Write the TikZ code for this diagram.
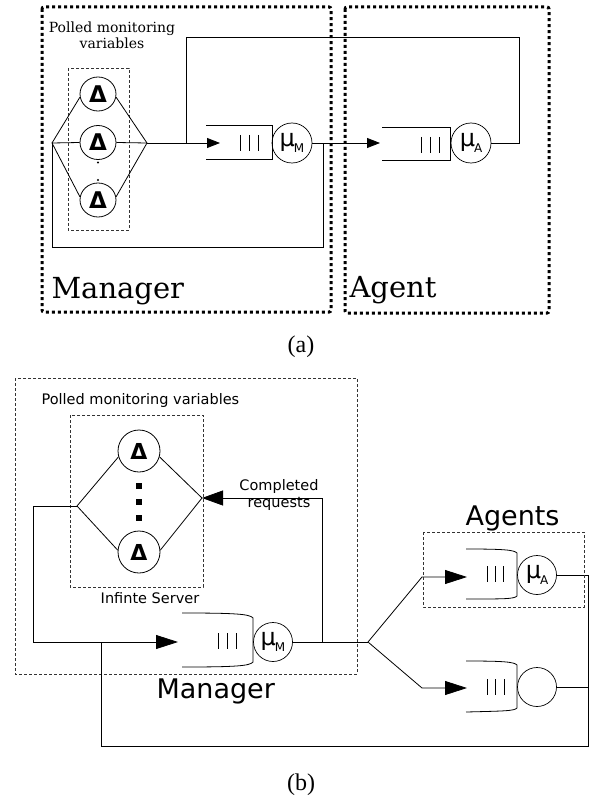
\documentclass[tikz,border=0pt]{standalone}
\usepackage{fontspec}
\setmainfont{DejaVu Sans}
\newfontfamily\serifA{DejaVu Serif}
\newfontfamily\capfont{Liberation Serif}
\usetikzlibrary{arrows.meta,shapes.geometric}
\newcommand\musub[1]{{\fontsize{24}{24}\selectfont μ}\kern-1pt\raisebox{-6pt}{\fontsize{12}{12}\selectfont #1}}
\begin{document}
\begin{tikzpicture}[x=1pt,y=-1pt,
  wire/.style={line width=0.8pt},
  bigbox/.style={line width=3pt, dash pattern=on 3pt off 3pt, rounded corners=2pt},
  thinbox/.style={line width=0.6pt, dash pattern=on 3pt off 2pt, draw=black!80},
  srvA/.style={circle, draw, line width=0.7pt, inner sep=0pt, minimum size=40pt},
  srvB/.style={circle, draw, line width=0.7pt, inner sep=0pt, minimum size=39pt},
  delA/.style={ellipse, draw, line width=0.8pt, inner sep=0pt, minimum width=36pt, minimum height=34pt, font=\fontsize{23}{23}\selectfont\bfseries},
  delB/.style={circle, draw, line width=0.8pt, inner sep=0pt, minimum size=42pt, font=\fontsize{22}{22}\selectfont\bfseries},
  arrA/.style={-{Triangle[length=13pt,width=10pt]}},
  arrB/.style={-{Triangle[length=22pt,width=14pt]}},
  bars/.style={line width=0.9pt},
]
\useasboundingbox (0,0) rectangle (592,802);

% ---------------- (a) ----------------
\draw[bigbox] (42,7) rectangle (331,312);
\draw[bigbox] (345,7) rectangle (549,313);
\draw[thinbox] (68,68) rectangle (129,230);
\node[font=\serifA\fontsize{14}{16}\selectfont, align=center] (pmvA) at (112,35) {Polled monitoring\\variables};
\node[anchor=base west, font=\serifA\fontsize{29}{29}\selectfont] (mgrA) at (48,298) {Manager};
\node[anchor=base west, font=\serifA\fontsize{29}{29}\selectfont] (agtA) at (346,297) {Agent};

\node[delA] (D1) at (98,94) {Δ};
\node[delA] (D2) at (98,142.5) {Δ};
\node[delA] (D3) at (98,200) {Δ};
\fill (98,162.5) circle (1.2pt);
\fill (98,180) circle (1.2pt);

\coordinate (L) at (52,143);
\coordinate (R) at (147,143);
\draw[wire] (L) -- (D1.190) (D1.350) -- (R);
\draw[wire] (L) -- (D2.west) (D2.east) -- (R);
\draw[wire] (L) -- (D3.170) (D3.10) -- (R);

\coordinate (qMin) at (220,143);
\draw[wire, arrA] (R) -- (qMin);
\draw[wire] (206,125) -- (272,125) -- (272,159) -- (206,159);
\foreach \x in {240,249,258} \draw[bars] (\x,135) -- (\x,151);
\node[srvA] (muM) at (292,143) {\musub{M}};

\coordinate (qAin) at (380,143);
\draw[wire] (382,127) -- (450,127) -- (450,160) -- (382,160);
\foreach \x in {421,430,439} \draw[bars] (\x,137) -- (\x,153);
\node[srvA] (muA) at (471,143) {\musub{A}};

\coordinate (T1) at (186,143);
\coordinate (T2) at (186,37);
\coordinate (T3) at (519,37);
\coordinate (T4) at (519,143);
\draw[wire] (T1) -- (T2) -- (T3) -- (T4) -- (muA.east);
\coordinate (J1) at (323,143);
\coordinate (J2) at (323,247);
\coordinate (J3) at (52,247);
\draw[wire] (muM.east) -- (J1) -- (J2) -- (J3) -- (L);
\draw[wire, arrA] (J1) -- (qAin);

\node[font=\capfont\fontsize{24}{24}\selectfont] (capA) at (301,347) {(a)};

% ---------------- (b) ----------------
\draw[thinbox] (15,378) rectangle (357,674);
\node[anchor=west, font=\fontsize{14.5}{14.5}\selectfont] (pmvB) at (38,400) {Polled monitoring variables};
\draw[thinbox] (70,415) rectangle (203,587);
\node[delB] (E1) at (139,451) {Δ};
\node[delB] (E2) at (139,552) {Δ};
\foreach \y in {486,502,518} \fill (136,\y-3) rectangle (142,\y+3);
\node[font=\fontsize{14.5}{14.5}\selectfont] (isrv) at (150,598) {Infinte Server};

\coordinate (DL) at (77,506);
\coordinate (DR) at (202,498);
\draw[wire] (DL) -- (E1.196) (E1.344) -- (DR);
\draw[wire] (DL) -- (E2.175) (E2.5) -- (DR);

\node[font=\fontsize{14.5}{17}\selectfont, align=center] (creq) at (279,495) {Completed\\requests};
\coordinate (C1) at (322,642);
\coordinate (C2) at (322,498);
\draw[wire, -{Triangle[length=21pt,width=15pt]}] (C1) -- (C2) -- (DR);

\coordinate (F1) at (33,506);
\coordinate (F2) at (33,642);
\coordinate (qMBin) at (178,642);
\draw[wire] (DL) -- (F1) -- (F2);
\draw[wire, arrB] (F2) -- (qMBin);

\draw[wire] (182,613) .. controls (235,613) and (250,614) .. (253,618) -- (253,662) .. controls (250,666) and (235,667) .. (182,667);
\foreach \x in {218,227,236} \draw[bars] (\x,633) -- (\x,649);
\node[srvB] (muMB) at (273,642) {\musub{M}};

\coordinate (B) at (368,642);
\draw[wire] (muMB.east) -- (B);
\coordinate (B1) at (422,577);
\coordinate (B2) at (422,688);
\coordinate (qA1in) at (467,577);
\coordinate (qA2in) at (467,688);
\draw[wire, arrB] (B) -- (B1) -- (qA1in);
\draw[wire, arrB] (B) -- (B2) -- (qA2in);

\draw[wire] (466,549) .. controls (505,549) and (514,550) .. (517,553) -- (517,596) .. controls (514,599) and (505,599) .. (466,599);
\foreach \x in {487,495,503} \draw[bars] (\x,566) -- (\x,582);
\node[srvB] (muAB) at (537,575) {\musub{A}};

\draw[wire] (466,661) .. controls (505,661) and (514,662) .. (517,665) -- (517,708) .. controls (514,711) and (505,711) .. (466,712);
\foreach \x in {487,495,504} \draw[bars] (\x,679) -- (\x,695);
\node[srvB] (S2) at (537,687) {};

\coordinate (K1) at (588,575);
\coordinate (K2) at (588,687);
\coordinate (K3) at (588,746);
\coordinate (K4) at (101,746);
\coordinate (K5) at (101,642);
\draw[wire] (muAB.east) -- (K1);
\draw[wire] (S2.east) -- (K2);
\draw[wire] (K1) -- (K3) -- (K4) -- (K5);

\draw[thinbox] (423,532) rectangle (584,607);
\node[anchor=base west, font=\fontsize{27}{27}\selectfont] (agtB) at (462,525) {Agents};
\node[anchor=base west, font=\fontsize{27}{27}\selectfont] (mgrB) at (153,698) {Manager};

\node[font=\capfont\fontsize{24}{24}\selectfont] (capB) at (301,785) {(b)};
\end{tikzpicture}
\end{document}
